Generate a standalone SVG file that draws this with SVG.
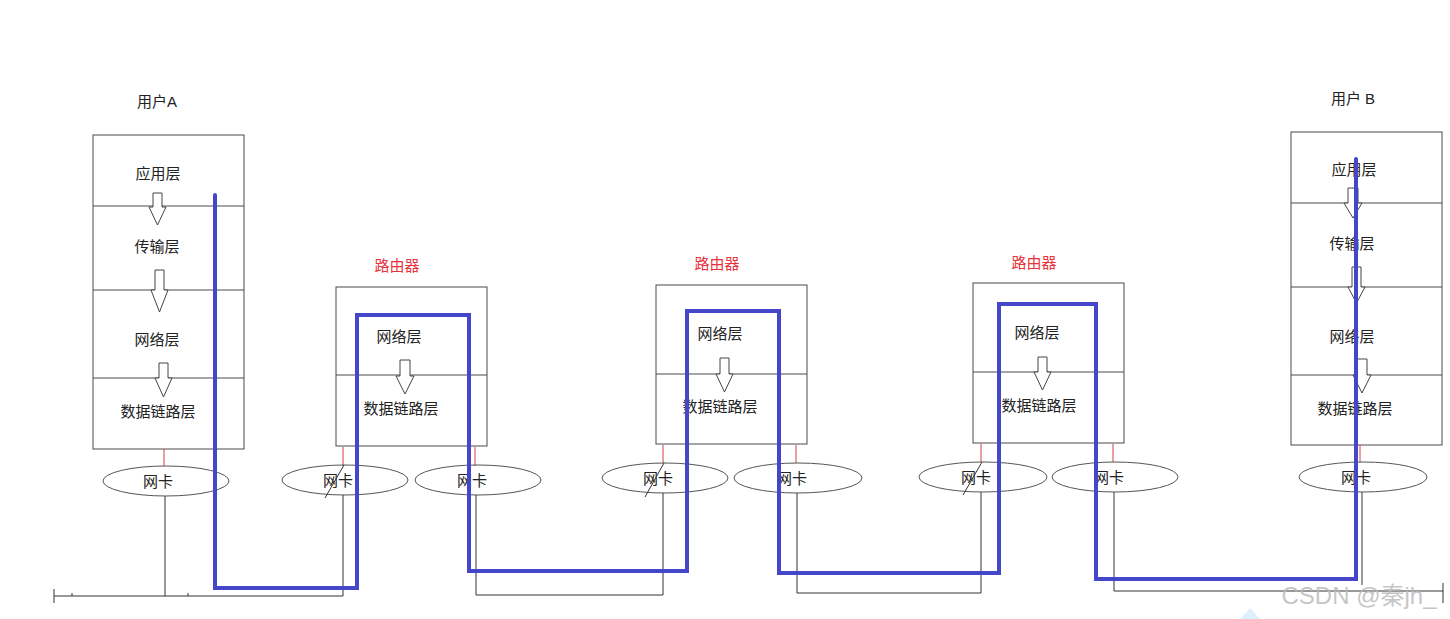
<svg xmlns="http://www.w3.org/2000/svg" width="1450" height="619" viewBox="0 0 1450 619">
<defs>
<style>
.box{fill:none;stroke:#4a4a4a;stroke-width:1}
.div{stroke:#4a4a4a;stroke-width:1}
.t{font-family:"Liberation Sans","Noto Sans CJK SC",sans-serif;font-size:15px;fill:#222;text-anchor:middle;dominant-baseline:central}
.rt{font-family:"Liberation Sans","Noto Sans CJK SC",sans-serif;font-size:15px;fill:#e8323c;text-anchor:middle;dominant-baseline:central}
.nic{fill:none;stroke:#555;stroke-width:1}
.red{stroke:#d04040;stroke-width:1}
.wire{fill:none;stroke:#333;stroke-width:1}
.arr{fill:#fff;stroke:#444;stroke-width:1}
.blue{fill:none;stroke:#4646c8;stroke-width:4;stroke-linejoin:miter;stroke-linecap:round}
</style>
</defs>
<rect width="1450" height="619" fill="#fff"/>

<g id="userA">
<text class="t" x="157" y="101">用户A</text>
<rect class="box" x="93" y="135" width="151" height="314"/>
<line class="div" x1="93" y1="206" x2="244" y2="206"/>
<line class="div" x1="93" y1="290" x2="244" y2="290"/>
<line class="div" x1="93" y1="378" x2="244" y2="378"/>
<text class="t" x="158" y="173">应用层</text>
<text class="t" x="157" y="246">传输层</text>
<text class="t" x="157" y="339">网络层</text>
<text class="t" x="158" y="411">数据链路层</text>
<polygon class="arr" points="153,193 162,193 162,207 166,207 157.5,225 149,207 153,207"/>
<polygon class="arr" points="155,270 164,270 164,290 168,290 159.5,312 151,290 155,290"/>
<polygon class="arr" points="159,363 168,363 168,378 172,378 163.5,397 155,378 159,378"/>
<line class="red" x1="164" y1="449" x2="164" y2="466"/>
<ellipse class="nic" cx="166" cy="481" rx="63" ry="15"/>
<text class="t" x="158" y="481">网卡</text>
</g>

<g id="router1">
<text class="rt" x="397" y="265">路由器</text>
<rect class="box" x="336" y="287" width="151" height="159"/>
<line class="div" x1="336" y1="375" x2="487" y2="375"/>
<text class="t" x="399" y="336">网络层</text>
<text class="t" x="401" y="408">数据链路层</text>
<polygon class="arr" points="400,360 410,360 410,376 414,376 405,394 396,376 400,376"/>
<line class="red" x1="343" y1="447" x2="343" y2="466"/>
<line class="red" x1="475" y1="447" x2="475" y2="466"/>
<ellipse class="nic" cx="345" cy="480" rx="63" ry="15"/>
<text class="t" x="338" y="480">网卡</text>
<line class="wire" x1="325" y1="498" x2="344" y2="465"/>
<ellipse class="nic" cx="478" cy="480" rx="63" ry="15"/>
<text class="t" x="472" y="480">网卡</text>
</g>

<g id="router2">
<text class="rt" x="717" y="263">路由器</text>
<rect class="box" x="656" y="285" width="151" height="159"/>
<line class="div" x1="656" y1="374" x2="807" y2="374"/>
<text class="t" x="720" y="333">网络层</text>
<text class="t" x="720" y="406">数据链路层</text>
<polygon class="arr" points="720,358 729,358 729,374 733,374 724.5,392 716,374 720,374"/>
<line class="red" x1="663" y1="445" x2="663" y2="463"/>
<line class="red" x1="796" y1="445" x2="796" y2="463"/>
<ellipse class="nic" cx="665" cy="478" rx="63" ry="15"/>
<text class="t" x="658" y="478">网卡</text>
<line class="wire" x1="645" y1="497" x2="664" y2="463"/>
<ellipse class="nic" cx="798" cy="478" rx="64" ry="15"/>
<text class="t" x="792" y="478">网卡</text>
</g>

<g id="router3">
<text class="rt" x="1034" y="262">路由器</text>
<rect class="box" x="973" y="283" width="151" height="160"/>
<line class="div" x1="973" y1="372" x2="1124" y2="372"/>
<text class="t" x="1037" y="332">网络层</text>
<text class="t" x="1039" y="405">数据链路层</text>
<polygon class="arr" points="1038,357 1047,357 1047,372 1051,372 1042.5,390 1034,372 1038,372"/>
<line class="red" x1="981" y1="444" x2="981" y2="462"/>
<line class="red" x1="1113" y1="444" x2="1113" y2="462"/>
<ellipse class="nic" cx="983" cy="477" rx="64" ry="15"/>
<text class="t" x="976" y="477">网卡</text>
<line class="wire" x1="963" y1="495" x2="982" y2="462"/>
<ellipse class="nic" cx="1115" cy="477" rx="63" ry="15"/>
<text class="t" x="1109" y="477">网卡</text>
</g>

<g id="userB">
<text class="t" x="1353" y="98">用户 B</text>
<rect class="box" x="1291" y="132" width="151" height="313"/>
<line class="div" x1="1291" y1="203" x2="1442" y2="203"/>
<line class="div" x1="1291" y1="287" x2="1442" y2="287"/>
<line class="div" x1="1291" y1="375" x2="1442" y2="375"/>
<text class="t" x="1354" y="169">应用层</text>
<text class="t" x="1352" y="243">传输层</text>
<text class="t" x="1352" y="336">网络层</text>
<text class="t" x="1355" y="408">数据链路层</text>
<polygon class="arr" points="1348,188 1358,188 1358,203 1362,203 1353,218 1344,203 1348,203"/>
<polygon class="arr" points="1352,267 1361,267 1361,287 1365,287 1356.5,303 1348,287 1352,287"/>
<polygon class="arr" points="1357,359 1367,359 1367,375 1371,375 1362,393 1353,375 1357,375"/>
<line class="red" x1="1360" y1="445" x2="1360" y2="462"/>
<ellipse class="nic" cx="1363" cy="477" rx="64" ry="15"/>
<text class="t" x="1356" y="477">网卡</text>
</g>

<g id="connectors">
<path class="wire" d="M165,496 V596"/>
<path class="wire" d="M54,596 H343 V495"/>
<path class="wire" d="M54,589 V603 M72,593 V596 M188,593 V596"/>
<path class="wire" d="M476,495 V595 H663 V493"/>
<path class="wire" d="M797,493 V593 H981 V492"/>
<path class="wire" d="M1114,492 V591 H1443 M1443,583 V603"/>
<path class="wire" d="M1362,492 V585"/>
<path class="blue" d="M215,195 V588 H357 V315 H469 V571 H687 V311 H779 V573 H999 V304 H1096 V579 H1356 V159"/>
</g>

<text x="1359" y="595" font-family="Liberation Sans,Noto Sans CJK SC,sans-serif" font-size="24" fill="#bbbbbb" fill-opacity="0.85" text-anchor="middle" dominant-baseline="central">CSDN @秦jh_</text>
<polygon points="1240,619 1250,608 1260,619" fill="#e0f0fb"/>
</svg>
